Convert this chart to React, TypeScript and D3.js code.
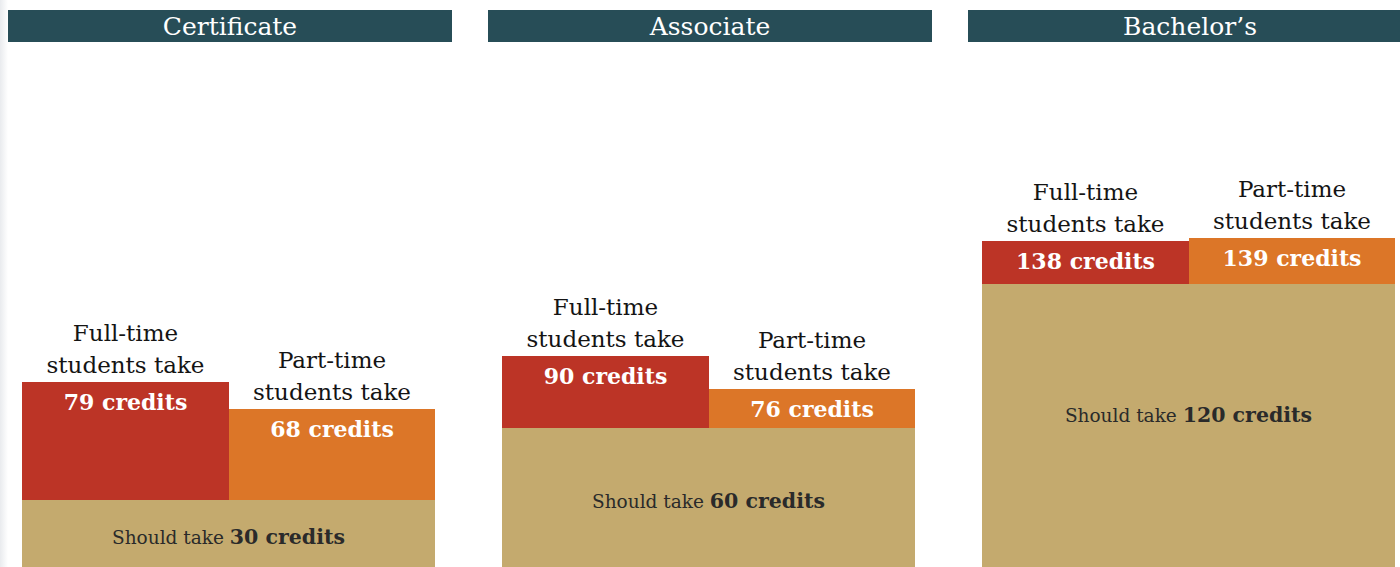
import React from "react";
import * as d3 from "d3";

// degree types, one panel each
const degrees = ["Certificate", "Associate", "Bachelor’s"];
// credits taken
const fullTime = [79, 90, 138];
const partTime = [68, 76, 139];
// credits required
const shouldTake = [30, 60, 120];
const groups = ["Full-time", "Part-time"];

const width = 1400, height = 567;
const font = "'DejaVu Serif', serif";

const colors = {
  header: "#274d57",
  full: "#bc3426",
  part: "#dc7628",
  should: "#c4aa6e",
  dark: "#141414",
};

const App = () => {
  const panel = d3.scaleBand<string>()
    .domain(degrees)
    .range([8, 1412])
    .paddingInner(0.075);

  const barW = 413, inset = 14;

  const sub = d3.scaleBand<string>()
    .domain(groups)
    .range([0, barW]);

  // credits -> pixel height
  const y = d3.scaleLinear()
    .domain([0, 140])
    .range([571.5, 236]);

  return (
    <svg width={width} height={height}
      style={{ position: "absolute", left: 0, top: 0, background: "#fff" }}>
      <defs>
        <linearGradient id="edge" x1="0" x2="1">
          <stop offset="0" stopColor="#e9ebee" />
          <stop offset="1" stopColor="#ffffff" />
        </linearGradient>
      </defs>
      <rect x={0} y={0} width={8} height={height} fill="url(#edge)" />
      {degrees.map((d, i) => {
        const px = panel(d)!;
        const gx = px + inset;
        const vals = [fullTime[i], partTime[i]];
        const sTop = Math.round(y(shouldTake[i]));
        const sMid = Math.min((sTop + y(0)) / 2, sTop + 130);
        return (
          <g key={d}>
            <rect x={px} y={10} width={panel.bandwidth()} height={32} fill={colors.header} />
            <text x={px + panel.bandwidth() / 2} y={35} textAnchor="middle"
              fill="#fff" fontFamily={font} fontSize={25}>{d}</text>

            {groups.map((g, j) => {
              const x0 = Math.round(gx + sub(g)!);
              const x1 = Math.round(gx + sub(g)! + sub.bandwidth());
              const cx = (x0 + x1) / 2;
              const top = Math.round(y(vals[j]));
              return (
                <g key={g}>
                  <rect x={x0} y={top} width={x1 - x0} height={y(0) - top}
                    fill={j === 0 ? colors.full : colors.part} />
                  <text x={cx} y={top - 41} textAnchor="middle" fill={colors.dark}
                    fontFamily={font} fontSize={23}>{g}</text>
                  <text x={cx} y={top - 9.5} textAnchor="middle" fill={colors.dark}
                    fontFamily={font} fontSize={23}>students take</text>
                  <text x={cx} y={top + 28} textAnchor="middle" fill="#fff"
                    fontFamily={font} fontSize={22} fontWeight="bold">{vals[j]} credits</text>
                </g>
              );
            })}

            <rect x={Math.round(gx)} y={sTop} width={barW} height={y(0) - sTop} fill={colors.should} />
            <text x={Math.round(gx) + barW / 2} y={sMid + 8} textAnchor="middle" fill="#2a2a2a" fontFamily={font}>
              <tspan fontSize={18.5}>Should take </tspan>
              <tspan fontSize={20.5} fontWeight="bold">{shouldTake[i]} credits</tspan>
            </text>
          </g>
        );
      })}
    </svg>
  );
};

export default App;
